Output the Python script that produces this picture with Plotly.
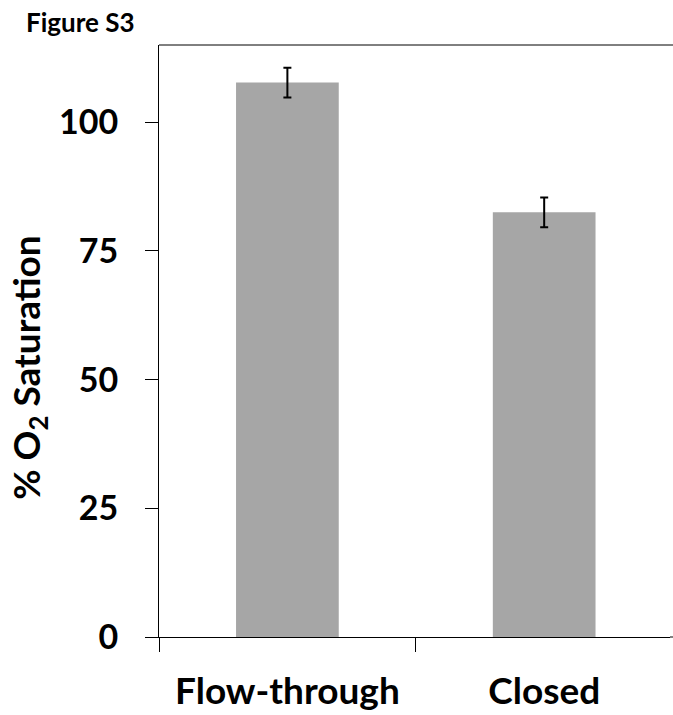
import plotly.graph_objects as go

categories = ["Flow-through", "Closed"]
values = [107.7, 82.5]
errors = [2.9, 2.9]
y_ticks = [0, 25, 50, 75, 100]

W, H = 673, 715
L, R, T, B = 159, 3, 45, 72
PW, PH = W - L - R, H - T - B

fig = go.Figure()
fig.add_trace(go.Bar(
    x=categories, y=values,
    marker=dict(color="#a6a6a6", line=dict(width=0)),
    width=0.4,
    error_y=dict(type="data", array=errors, visible=True, color="black", thickness=2, width=4),
))

fig.update_layout(
    width=W, height=H,
    margin=dict(l=L, r=R, t=T, b=B),
    plot_bgcolor="white", paper_bgcolor="white",
    showlegend=False,
    font=dict(family="Lato", color="black"),
    xaxis=dict(
        type="category", tickson="boundaries", ticks="outside", ticklen=14, tickwidth=1,
        tickcolor="black", showline=True, linecolor="black", linewidth=1,
        tickfont=dict(family="Lato", size=37, color="black", weight="bold"),
        ticklabelstandoff=22, range=[-0.5, 1.49],
    ),
    yaxis=dict(
        range=[0, 115], tickvals=y_ticks, ticks="outside", ticklen=13, tickwidth=1,
        tickcolor="black", showline=True, linecolor="black", linewidth=1,
        showgrid=False, zeroline=False,
        tickfont=dict(family="Lato", size=34, color="black", weight="bold"),
        ticklabelstandoff=20,
    ),
)

# title
fig.add_annotation(text="<b>Figure S3</b>", xref="paper", yref="paper",
                   x=(24 - L) / PW, y=(643 - 22) / PH, xanchor="left", yanchor="middle",
                   showarrow=False, font=dict(family="Lato", size=26, color="black"))
# y axis title
fig.add_annotation(text="<b>% O<sub>2</sub> Saturation</b>", xref="paper", yref="paper",
                   x=(29 - L) / PW, y=(643 - 371) / PH, xanchor="center", yanchor="middle",
                   textangle=-90, showarrow=False, font=dict(family="Lato", size=37, color="black"))

# top border line of the plot frame, running to the image edge
fig.add_shape(type="line", xref="paper", yref="paper", x0=0, x1=(673 - L) / PW, y0=1, y1=1,
              line=dict(color="black", width=1))
fig.add_shape(type="line", xref="paper", yref="paper", x0=1, x1=(673 - L) / PW, y0=0, y1=0,
              line=dict(color="black", width=1))

fig.write_html("out.html", config={"displayModeBar": False},
               post_script="document.body.style.margin='0';document.body.style.overflow='hidden';")
